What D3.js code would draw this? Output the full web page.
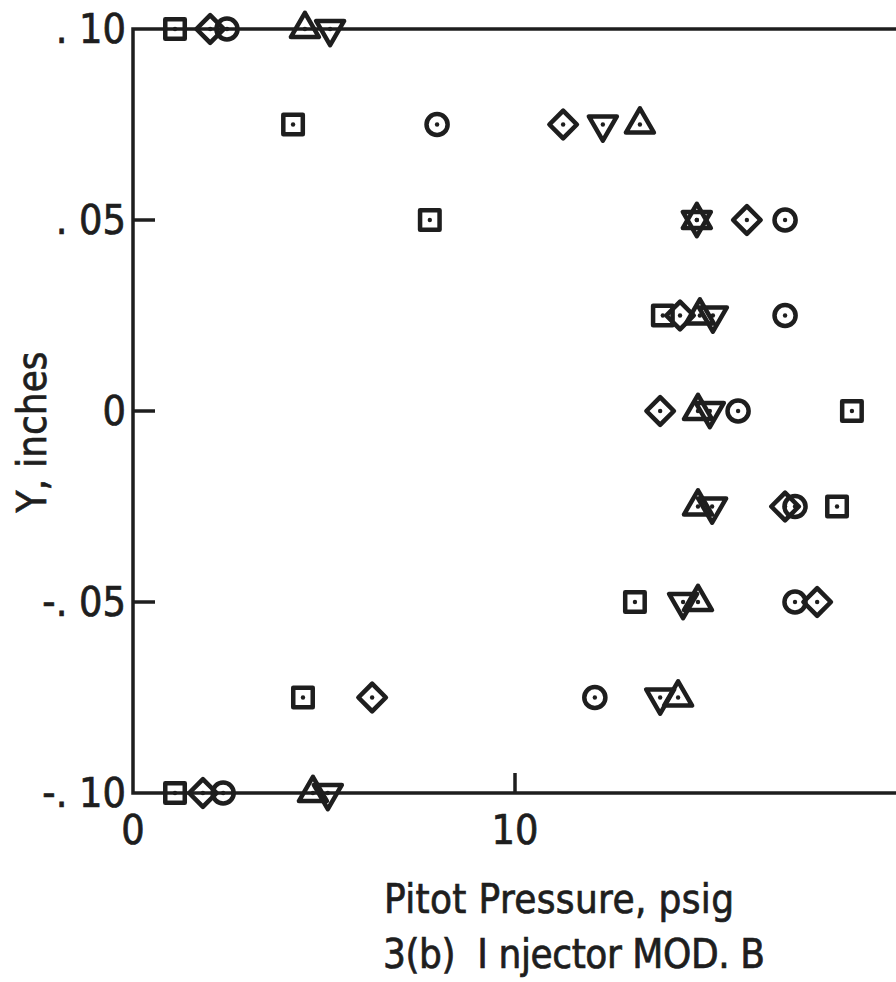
<!DOCTYPE html>
<html>
<head>
<meta charset="utf-8">
<script src="https://cdn.jsdelivr.net/npm/d3@7"></script>
<style>
    body { margin: 0; background: #fff; }
    svg text { font-family: "Liberation Sans Narrow", "DejaVu Sans Condensed", sans-serif; fill: #1e1e1e; stroke: #1e1e1e; stroke-width: 0.7px; }
</style>
</head>
<body>
<svg id="chart" width="896" height="982"></svg>
<script>
// y stations (inches) shared by every series
const yLevels = [0.10, 0.075, 0.05, 0.025, 0, -0.025, -0.05, -0.075, -0.10];

// pitot pressure (psig) at each station, one list per symbol
const squareX   = [1.10, 4.19, 7.77, 13.87, 18.82, 18.43, 13.14, 4.45, 1.10];
const diamondX  = [2.02, 11.26, 16.07, 14.32, 13.80, 17.07, 17.91, 6.26, 1.83];
const circleX   = [2.46, 7.96, 17.07, 17.07, 15.84, 17.33, 17.33, 12.09, 2.36];
const triUpX    = [4.50, 13.27, 14.76, 14.84, 14.79, 14.79, 14.79, 14.27, 4.71];
const triDownX  = [5.16, 12.30, 14.76, 15.18, 15.10, 15.16, 14.40, 13.80, 5.10];

const xTicks = [0, 10, 20];
const yTicks = [0.10, 0.05, 0, -0.05, -0.10];
const yTickLabels = [". 10", ". 05", "0", "-. 05", "-. 10"];

const ink = '#1e1e1e';

let svg = d3.select('#chart');

let x = d3.scaleLinear().domain([0, 20]).range([133, 897]);
let y = d3.scaleLinear().domain([-0.10, 0.10]).range([793, 29]);

// frame: left, bottom and top lines (right side runs off the page)
let axes = svg.append('g')
    .attr('stroke', ink)
    .attr('stroke-width', 3.5)
    .attr('fill', 'none');
axes.append('path')
    .attr('d', `M${x(20) + 10},${y(0.10)}H${x(0)}V${y(-0.10)}H${x(20) + 10}`);

// inward ticks
axes.selectAll('.ytick')
    .data(yTicks.filter(v => Math.abs(v) < 0.1))
    .enter()
    .append('line')
    .attr('x1', x(0)).attr('x2', x(0) + 22)
    .attr('y1', v => y(v)).attr('y2', v => y(v));
axes.selectAll('.xtick')
    .data(xTicks.filter(v => v > 0 && v < 20))
    .enter()
    .append('line')
    .attr('x1', v => x(v)).attr('x2', v => x(v))
    .attr('y1', y(-0.10)).attr('y2', y(-0.10) - 20);

// tick labels
svg.selectAll('.ylab')
    .data(yTicks)
    .enter()
    .append('text')
    .attr('x', x(0) - 7)
    .attr('y', v => y(v) + 14)
    .attr('text-anchor', 'end')
    .attr('font-size', 41)
    .attr('xml:space', 'preserve')
    .text((v, i) => yTickLabels[i]);
svg.selectAll('.xlab')
    .data(xTicks.filter(v => v < 20))
    .enter()
    .append('text')
    .attr('x', v => x(v))
    .attr('y', 844)
    .attr('text-anchor', 'middle')
    .attr('font-size', 41)
    .text(v => v);

// axis titles
svg.append('text')
    .attr('transform', `translate(46, 432) rotate(-90)`)
    .attr('text-anchor', 'middle')
    .attr('font-size', 40)
    .text('Y, inches');
svg.append('text')
    .attr('x', 384).attr('y', 913)
    .attr('font-size', 40)
    .attr('textLength', 350)
    .text('Pitot Pressure, psig');
svg.append('text')
    .attr('x', 383).attr('y', 968)
    .attr('font-size', 40)
    .attr('xml:space', 'preserve')
    .attr('textLength', 382)
    .text('3(b)  I njector MOD. B');

// data symbols
let series = [
    { xs: squareX,  type: d3.symbolSquare,   size: 380, rot: 0 },
    { xs: diamondX, type: d3.symbolSquare,   size: 380, rot: 45 },
    { xs: circleX,  type: d3.symbolCircle,   size: 350, rot: 0 },
    { xs: triUpX,   type: d3.symbolTriangle, size: 340, rot: 0 },
    { xs: triDownX, type: d3.symbolTriangle, size: 340, rot: 180 }
];

series.forEach(s => {
    let pts = s.xs.map((v, i) => ({ px: v, py: yLevels[i] }));
    let g = svg.append('g');
    g.selectAll('path')
        .data(pts)
        .enter()
        .append('path')
        .attr('d', d3.symbol().type(s.type).size(s.size))
        .attr('transform', d => `translate(${x(d.px)},${y(d.py)}) rotate(${s.rot})`)
        .attr('fill', 'none')
        .attr('stroke', ink)
        .attr('stroke-width', 4.5)
        .attr('stroke-linejoin', 'round');
    g.selectAll('circle')
        .data(pts)
        .enter()
        .append('circle')
        .attr('cx', d => x(d.px))
        .attr('cy', d => y(d.py))
        .attr('r', 2.2)
        .attr('fill', ink);
});
</script>
</body>
</html>
